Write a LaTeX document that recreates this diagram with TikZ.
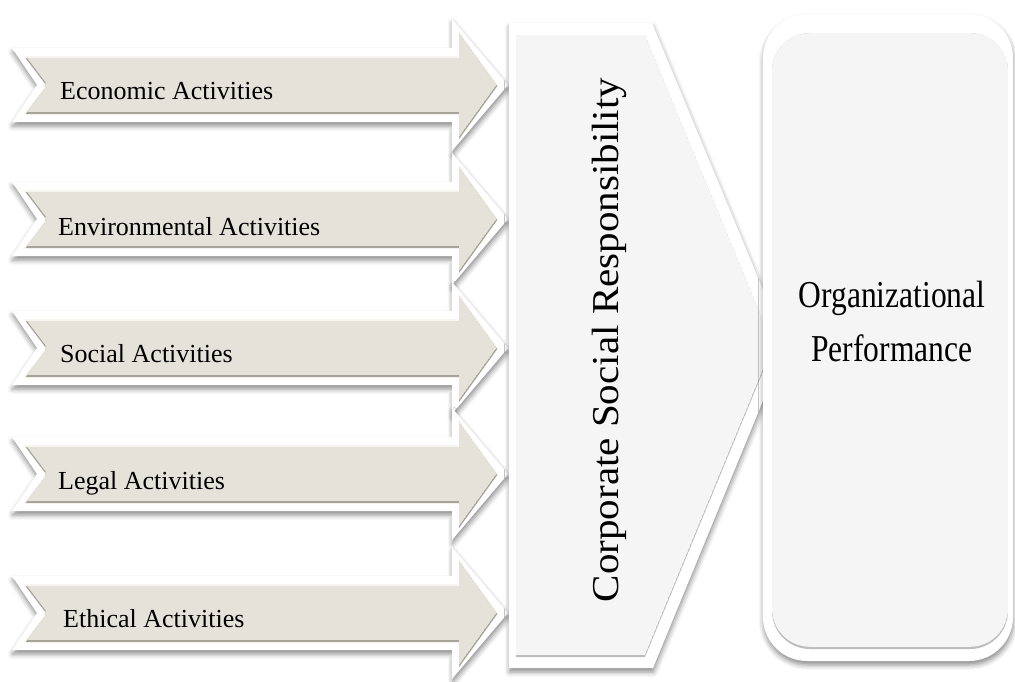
\documentclass[tikz,border=0pt]{standalone}
\usepackage{fontspec}
\setmainfont{Liberation Serif}
\newfontfamily\perffont[FakeStretch=0.83]{Liberation Serif}
\newfontfamily\csrfont[FakeStretch=1.08]{Liberation Serif}
\usetikzlibrary{shadows.blur}

\definecolor{armfill}{HTML}{E5E3D9}
\definecolor{armlight}{HTML}{F6F5F0}
\definecolor{armdark}{HTML}{A6A499}
\definecolor{panelfill}{HTML}{F5F5F5}
\definecolor{panellight}{HTML}{FFFFFF}
\definecolor{paneldark}{HTML}{BDBDBD}

\tikzset{
  rim/.style={fill=white, blur shadow={shadow xshift=0.5pt, shadow yshift=-4pt,
      shadow blur radius=5pt, shadow opacity=45}},
  armtext/.style={anchor=base west, inner sep=0pt, text=black,
      font=\fontsize{26}{30}\selectfont},
}

% bevelled fill of a closed path #1: light top edge, dark bottom edge
\newcommand\bevelfill[4]{%
  \begin{scope}
    \clip #1;
    \fill[#2] #1;
    \begin{scope}[yshift=-2.2pt]
      \clip #1;
      \fill[#4] #1;
      \begin{scope}[yshift=4.4pt]
        \clip #1;
        \fill[#3] #1;
      \end{scope}
    \end{scope}
  \end{scope}}

% one notched activity arrow centred on height #2, label #4 at x = #3
\newcommand\activityarrow[5]{%
  \path[rim] (12,#2-37) -- (452,#2-37) -- (452,#2-66) -- (508,#2)
     -- (452,#2+66) -- (452,#2+37) -- (12,#2+37) -- (37,#2) -- cycle;
  \bevelfill{(24,#2-29) -- (459,#2-29) -- (459,#2-54) -- (498,#2)
     -- (459,#2+54) -- (459,#2+29) -- (24,#2+29) -- (46,#2) -- cycle}
     {armlight}{armfill}{armdark}
  \node[armtext] (#1) at (#3,#2+#5) {#4};}

\begin{document}
\begin{tikzpicture}[x=1pt, y=-1pt]
  \useasboundingbox (0,0) rectangle (1015,681);

  % activity arrows
  \activityarrow{econ}{85}{60}{Economic Activities}{14}
  \activityarrow{env}{219}{58}{Environmental Activities}{16}
  \activityarrow{soc}{348}{60}{Social Activities}{14}
  \activityarrow{legal}{474}{58}{Legal Activities}{15}
  \activityarrow{eth}{613}{63}{Ethical Activities}{14}

  % corporate social responsibility chevron
  \path[rim] (509,23) -- (652,23) -- (786,345) -- (653,668) -- (509,668) -- cycle;
  \bevelfill{(516,33) -- (645,33) -- (774,345) -- (645,657) -- (516,657) -- cycle}
    {panellight}{panelfill}{paneldark}
  \node[rotate=90, anchor=base, inner sep=0pt,
        font=\csrfont\fontsize{38}{44}\selectfont] (csr) at (618,340)
    {Corporate Social Responsibility};

  % organizational performance panel
  \path[rim, rounded corners=44pt] (763,14) rectangle (1013,661);
  \bevelfill{[rounded corners=38pt] (772,31) rectangle (1008,649)}
    {panellight}{panelfill}{paneldark}
  \node[align=center, inner sep=0pt,
        font=\perffont\fontsize{38}{54}\selectfont] (perf) at (892,321)
    {Organizational\\Performance};
\end{tikzpicture}
\end{document}
